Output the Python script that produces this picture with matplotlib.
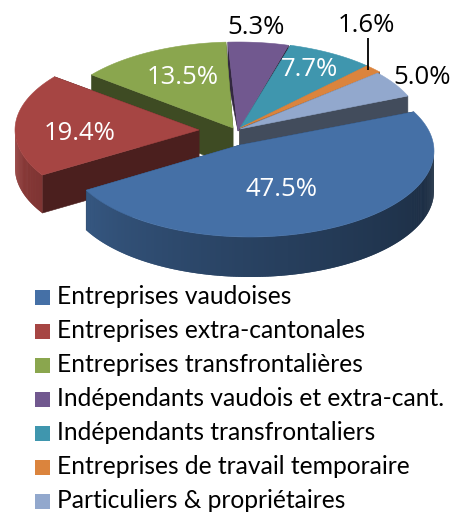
# 3D looking exploded pie, drawn by hand in pixel coordinates
import matplotlib.pyplot as plt
import matplotlib.patches as patches
import numpy as np

categories = ['Entreprises vaudoises', 'Entreprises extra-cantonales',
              'Entreprises transfrontalières', 'Indépendants vaudois et extra-cant.',
              'Indépendants transfrontaliers', 'Entreprises de travail temporaire',
              'Particuliers & propriétaires']
values = [47.5, 19.4, 13.5, 5.3, 7.7, 1.6, 5.0]

colors = ['#4570a6', '#a64543', '#8aa64e', '#71588f', '#3f96ae', '#db843d', '#92a8cd']

# layout, in image pixels
RX, RY = 184, 86
START = 22.6
centers = [(250, 151), (199, 130), (236, 128), (238, 128), (240, 128), (240, 128), (238, 129)]
apexes = [(240, 145), (199, 130), (233, 128), (238, 131), (240, 128), (240, 128), (240, 129)]
rim_pad = [4.5, 0, 0, 0, 0, 0, 0]
depth = [40, 38, 38, 38, 38, 38, 38]
apex_depth = [40, 38, 38, 0, 38, 38, 38]
label_pos = [(281, 189), (80, 133), (183, 78), (256, 28), (310, 70), (366, 26), (422, 78)]
label_col = ['white', 'white', 'white', 'black', 'white', 'black', 'black']


def rim(c, t):
    t = np.radians(t)
    return c[0] + RX * np.cos(t), c[1] - RY * np.sin(t)


def shade(col, f):
    r, g, b = plt.matplotlib.colors.to_rgb(col)
    return (r * f, g * f, b * f)


fig = plt.figure(figsize=(4.54, 5.13), dpi=100, facecolor='white')
ax = fig.add_axes([0, 0, 1, 1])
ax.set_xlim(0, 454)
ax.set_ylim(513, 0)
ax.axis('off')

# start/end angle of every slice, clockwise from START
sweeps = np.array(values) / sum(values) * 360
ends = START - np.cumsum(sweeps)
starts = ends + sweeps


def draw_body(i):
    c = centers[i]
    a = apexes[i]
    t0 = starts[i] + rim_pad[i]
    t1 = ends[i] - rim_pad[i]
    d = depth[i]

    # cut faces, the lower one on top
    for t in sorted([t0, t1], key=lambda t: rim(c, t)[1]):
        x, y = rim(c, t)
        pts = [a, (x, y), (x, y + d), (a[0], a[1] + apex_depth[i])]
        ax.add_patch(patches.Polygon(pts, closed=True, fc=shade(colors[i], 0.45),
                                     ec=shade(colors[i], 0.45), lw=0.4))

    # outer side, small overlapping quads so the shading runs along the rim
    hi = min(t0, 0)
    lo = max(t1, -180)
    if lo < hi:
        steps = np.arange(lo, hi, 0.5)
        for s0 in steps:
            s1 = min(s0 + 1.0, hi)
            f = 0.92 - 0.54 * ((s0 + 180) / 180) ** 0.7
            x0, y0 = rim(c, s0)
            x1, y1 = rim(c, s1)
            ax.add_patch(patches.Polygon([(x0, y0), (x1, y1), (x1, y1 + d), (x0, y0 + d)],
                                         closed=True, fc=shade(colors[i], f), ec='none'))


def draw_top(i):
    tt = np.linspace(starts[i] + rim_pad[i], ends[i] - rim_pad[i], 120)
    xs, ys = rim(centers[i], tt)
    pts = [apexes[i]] + list(zip(xs, ys))
    ax.add_patch(patches.Polygon(pts, closed=True, fc=colors[i], ec=colors[i], lw=0.4))


# sides of the back slices, then their tops, the big front slice last
for i in [3, 4, 5, 6, 2, 1]:
    draw_body(i)
for i in [2, 3, 4, 5, 6, 1]:
    draw_top(i)
draw_body(0)
draw_top(0)

# leader line for the small slice
ax.plot([368, 368], [38, 70], color='black', lw=1.3, solid_capstyle='butt')

for v, pos, col in zip(values, label_pos, label_col):
    ax.text(pos[0], pos[1], f'{v:.1f}%', ha='center', va='center', color=col,
            fontsize=18.5, family='Open Sans')

# legend
for i, name in enumerate(categories):
    y = 297 + i * 34
    ax.add_patch(patches.Rectangle((35, y - 7.5), 15, 15, fc=colors[i], ec='none'))
    ax.text(57, y, name, ha='left', va='center', fontsize=17.7, family='Lato', color='black')

plt.savefig('out.png', dpi=100)
